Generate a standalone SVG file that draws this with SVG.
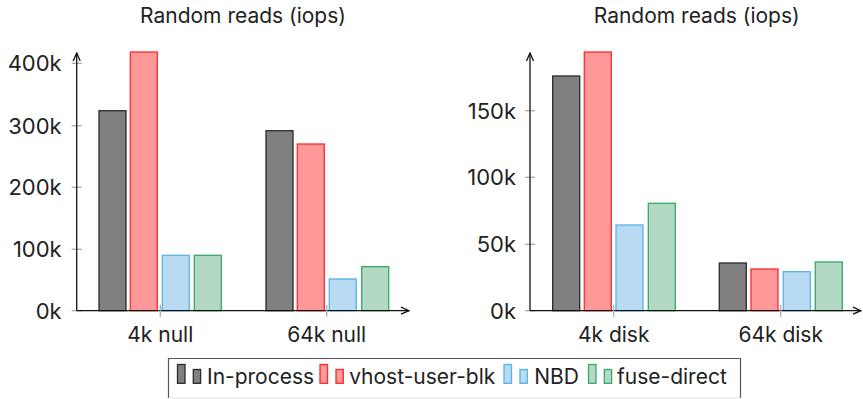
<svg xmlns="http://www.w3.org/2000/svg" width="863" height="399" viewBox="0 0 863 399">
  <defs>
    <marker id="arrow" viewBox="0 0 10 10" refX="9" refY="5" markerWidth="10" markerHeight="10" markerUnits="userSpaceOnUse" orient="auto">
      <path d="M1,1.5 L9,5 L1,8.5" fill="none" stroke="#111" stroke-width="1.3"/>
    </marker>
    <style>
      text { font-family: Inter, "Noto Sans", "Liberation Sans", sans-serif; fill: #222; font-size: 21px; }
      .title { text-anchor: middle; }
      .ylab { text-anchor: end; font-size: 22px; }
      .xlab { text-anchor: middle; }
      .axis { stroke: #111; stroke-width: 1.3; fill: none; }
      .tick { stroke: #aaa; stroke-width: 1.3; }
      .inproc { fill: #808080; stroke: #2a2a2a; stroke-width: 1.3; }
      .vhost { fill: #ff9999; stroke: #ff2a2a; stroke-width: 1.3; }
      .nbd { fill: #b8daf2; stroke: #55b5e8; stroke-width: 1.3; }
      .fuse { fill: #b3d9c4; stroke: #36a86a; stroke-width: 1.3; }
    </style>
  </defs>

  <!-- left chart: null devices -->
  <g id="chart-null">
    <text class="title" x="243" y="23">Random reads (iops)</text>
    <g id="null-yaxis">
      <line class="tick" x1="71.7" y1="63.3" x2="81.7" y2="63.3"/>
      <line class="tick" x1="71.7" y1="125.7" x2="81.7" y2="125.7"/>
      <line class="tick" x1="71.7" y1="187.3" x2="81.7" y2="187.3"/>
      <line class="tick" x1="71.7" y1="249.3" x2="81.7" y2="249.3"/>
      <line class="tick" x1="71.7" y1="310.7" x2="81.7" y2="310.7"/>
      <text class="ylab" x="61.7" y="71.3">400k</text>
      <text class="ylab" x="61.7" y="133.6">300k</text>
      <text class="ylab" x="61.7" y="195.3">200k</text>
      <text class="ylab" x="61.7" y="257.3">100k</text>
      <text class="ylab" x="61.7" y="318.8">0k</text>
    </g>
    <g id="null-4k">
      <rect class="inproc" x="99" y="110.7" width="27" height="200"/>
      <rect class="vhost" x="130.3" y="52" width="27" height="258.7"/>
      <rect class="nbd" x="162.3" y="255.3" width="27" height="55.4"/>
      <rect class="fuse" x="194.3" y="255.3" width="27" height="55.4"/>
      <text class="xlab" x="160.3" y="342">4k null</text>
    </g>
    <g id="null-64k">
      <rect class="inproc" x="266" y="130.7" width="27" height="180"/>
      <rect class="vhost" x="297.3" y="144" width="27" height="166.7"/>
      <rect class="nbd" x="329.3" y="279" width="27" height="31.7"/>
      <rect class="fuse" x="361.7" y="266.7" width="27" height="44"/>
      <text class="xlab" x="326.7" y="342">64k null</text>
    </g>
  </g>

  <!-- right chart: disk devices -->
  <g id="chart-disk">
    <text class="title" x="696.7" y="23">Random reads (iops)</text>
    <g id="disk-yaxis">
      <line class="tick" x1="525" y1="110.7" x2="535" y2="110.7"/>
      <line class="tick" x1="525" y1="177.3" x2="535" y2="177.3"/>
      <line class="tick" x1="525" y1="244.3" x2="535" y2="244.3"/>
      <line class="tick" x1="525" y1="310.7" x2="535" y2="310.7"/>
      <text class="ylab" x="516" y="118.6">150k</text>
      <text class="ylab" x="516" y="185.3">100k</text>
      <text class="ylab" x="516" y="252.3">50k</text>
      <text class="ylab" x="516" y="318.8">0k</text>
    </g>
    <g id="disk-4k">
      <rect class="inproc" x="552.7" y="76" width="27" height="234.7"/>
      <rect class="vhost" x="584.3" y="52" width="27" height="258.7"/>
      <rect class="nbd" x="616" y="225" width="27" height="85.7"/>
      <rect class="fuse" x="648.3" y="203.3" width="27" height="107.4"/>
      <text class="xlab" x="613.7" y="342">4k disk</text>
    </g>
    <g id="disk-64k">
      <rect class="inproc" x="719.3" y="263" width="27" height="47.7"/>
      <rect class="vhost" x="751" y="269" width="27" height="41.7"/>
      <rect class="nbd" x="783.3" y="271.7" width="27" height="39"/>
      <rect class="fuse" x="815.3" y="262" width="27" height="48.7"/>
      <text class="xlab" x="780.7" y="342">64k disk</text>
    </g>
  </g>

  <!-- axes and category ticks -->
  <g id="connectors">
    <line class="axis" x1="76.7" y1="310.7" x2="76.7" y2="53" marker-end="url(#arrow)"/>
    <line class="axis" x1="76.7" y1="310.7" x2="409" y2="310.7" marker-end="url(#arrow)"/>
    <line class="tick" x1="160.3" y1="305" x2="160.3" y2="316.7"/>
    <line class="tick" x1="326.7" y1="305" x2="326.7" y2="316.7"/>
    <line class="axis" x1="530" y1="310.7" x2="530" y2="53" marker-end="url(#arrow)"/>
    <line class="axis" x1="530" y1="310.7" x2="861" y2="310.7" marker-end="url(#arrow)"/>
    <line class="tick" x1="613.7" y1="305" x2="613.7" y2="316.7"/>
    <line class="tick" x1="780.7" y1="305" x2="780.7" y2="316.7"/>
  </g>

  <!-- legend -->
  <g id="legend">
    <path d="M168.5,398 V358.5 H740.5 V398" fill="none" stroke="#555" stroke-width="1.2"/>
    <line x1="168.5" y1="398" x2="740.5" y2="398" stroke="#ddd" stroke-width="1"/>
    <rect class="inproc" x="177.5" y="364.5" width="7.5" height="18.8"/>
    <rect class="inproc" x="193.3" y="369.5" width="7.3" height="13.8"/>
    <text x="207" y="384.3">In-process</text>
    <rect class="vhost" x="320" y="364.5" width="7.5" height="18.8"/>
    <rect class="vhost" x="336" y="369.5" width="7.3" height="13.8"/>
    <text x="349.2" y="384.3">vhost-user-blk</text>
    <rect class="nbd" x="504" y="364.5" width="7.5" height="18.8"/>
    <rect class="nbd" x="520" y="369.5" width="7.3" height="13.8"/>
    <text x="534.2" y="384.3">NBD</text>
    <rect class="fuse" x="588.5" y="364.5" width="7.5" height="18.8"/>
    <rect class="fuse" x="604.3" y="369.5" width="7.3" height="13.8"/>
    <text x="617" y="384.3">fuse-direct</text>
  </g>
</svg>
